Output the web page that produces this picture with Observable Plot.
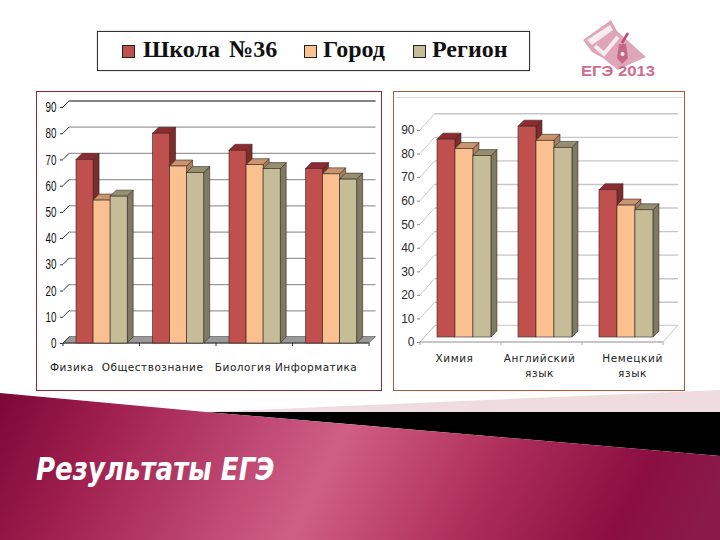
<!DOCTYPE html>
<html><head><meta charset="utf-8">
<script src="https://cdn.jsdelivr.net/npm/d3@7"></script>
<script src="https://cdn.jsdelivr.net/npm/@observablehq/plot@0.6"></script>
<style>
html,body{margin:0;padding:0;background:#fff;}
#slide{position:relative;width:720px;height:540px;overflow:hidden;background:#fff;}
#slide>*{position:absolute;}
#banner{left:0;top:0;width:720px;height:540px;}
#legend{left:97px;top:31px;width:431px;height:38px;border:1px solid #333;background:#fff;box-shadow:0 0 1px #888;font:bold 24px "Liberation Serif",serif;color:#111;}
#legend span{position:absolute;top:4px;white-space:nowrap;word-spacing:3px;}
#legend i{position:absolute;top:13px;width:11px;height:11px;border:1px solid #222;}
.panel{top:91px;height:298px;background:#fff;box-sizing:content-box;}
#pl{left:36px;width:344px;border:1px solid #8a2a35;}
#pr{left:393px;width:290px;border:1px solid #b8583a;}
#pr:before{content:"";position:absolute;left:1px;right:1px;top:5px;height:1px;background:#d8dadc;}
.panel svg{position:absolute;left:0;top:0;overflow:visible;}
.lab{position:absolute;font:10.5px "DejaVu Sans",sans-serif;color:#222;white-space:pre;text-align:center;line-height:15px;}
#title{left:36px;top:450px;font:italic bold 32px "DejaVu Sans Condensed","DejaVu Sans",sans-serif;color:#fff;white-space:nowrap;transform:scaleX(.905);transform-origin:left center;}
</style></head><body>
<div id="slide">
<svg id="banner" viewBox="0 0 720 540">
<defs><linearGradient id="g" gradientUnits="userSpaceOnUse" x1="0" y1="320" x2="640" y2="640">
<stop offset=".05" stop-color="#7c0838"/><stop offset=".2" stop-color="#a0204f"/><stop offset=".5" stop-color="#cf5f85"/><stop offset=".7" stop-color="#b0305c"/><stop offset=".9" stop-color="#8a0e40"/><stop offset="1" stop-color="#8a1a48"/></linearGradient></defs>
<polygon points="206,412 720,390 720,412" fill="#eedce0"/>
<polygon points="206,412 720,412 720,456" fill="#000"/>
<polygon points="0,393 206,412 720,456 720,540 0,540" fill="url(#g)"/>
<polygon points="583,40 611,20 617,31 646,57 628,65 618,70 603,58 592,52" fill="#dfa6ba"/>
<polygon points="587,40 610,25 613,30 592,45" fill="#f7ecf0"/>
<path d="M595,46 L604,54 L618,37" fill="none" stroke="#f7ecf0" stroke-width="4"/>
<path d="M622,43 L628,33" fill="none" stroke="#c04a72" stroke-width="2.5"/>
<path d="M619,44 L626,44 L628,58 L622,64 L617,58 Z" fill="#c4688a"/>
<circle cx="622.5" cy="54" r="2" fill="#f7ecf0"/>
<text x="581" y="75.5" font-family="Liberation Sans" font-weight="bold" font-size="15" fill="#cf6c8e" textLength="74" lengthAdjust="spacingAndGlyphs">ЕГЭ 2013</text>
</svg>
<div id="legend"></div>
<div id="pl" class="panel"></div>
<div id="pr" class="panel"></div>
<div id="title">Результаты ЕГЭ</div>
</div>
<script>
const seriesNames = ["Школа №36", "Город", "Регион"];
const frontColors = ["#c0504d", "#fac090", "#c4bd97"];
const sideColors  = ["#7e2b2c", "#a8805f", "#7f7b62"];
const topColors   = ["#8c2c30", "#c8966e", "#94906f"];

const leftSubjects = ["Физика", "Обществознание", "Биология", "Информатика"];
const leftSchool = [70, 80, 73.5, 66.5];
const leftCity   = [54.5, 67.5, 68, 64.5];
const leftRegion = [56, 65, 66.5, 62.5];

const rightSubjects = ["Химия", "Английский язык", "Немецкий язык"];
const rightSchool = [84, 89.5, 62.5];
const rightCity   = [80, 83.5, 56];
const rightRegion = [77, 80.5, 54];

const gridValues = [0, 10, 20, 30, 40, 50, 60, 70, 80, 90];
const leftCaption = "Физика  Обществознание   Биология Информатика";

function table(subjects, lists, pad, barWidth) {
  return subjects.flatMap((subject, i) => seriesNames.map((series, k) => ({
    subject, series, k, value: lists[k][i],
    start: i + pad + k * barWidth, end: i + pad + (k + 1) * barWidth
  })));
}

function bars3d(data, depth, lift) {
  return Plot.rect(data, {
    x1: "start", x2: "end", y1: 0, y2: "value", fill: "series",
    stroke: "#3a2424", strokeWidth: 0.6, dx: lift, dy: -lift,
    render(index, scales, values, dims, ctx, next) {
      const g = next(index, scales, values, dims, ctx);
      const rects = [...g.querySelectorAll("rect")];
      rects.forEach((r, j) => {
        const k = data[index[j]].k;
        const x = +r.getAttribute("x"), y = +r.getAttribute("y"),
              w = +r.getAttribute("width"), h = +r.getAttribute("height");
        const poly = (pts, fill) => {
          const p = document.createElementNS("http://www.w3.org/2000/svg", "polygon");
          p.setAttribute("points", pts.map(q => q.join(",")).join(" "));
          p.setAttribute("fill", fill);
          r.parentNode.insertBefore(p, r);
        };
        poly([[x + w, y], [x + w + depth, y - depth], [x + w + depth, y + h - depth], [x + w, y + h]], sideColors[k]);
        poly([[x, y], [x + depth, y - depth], [x + w + depth, y - depth], [x + w, y]], topColors[k]);
      });
      return g;
    }
  });
}

function room({dx, dy, floorFill, floorStroke, tickColor, bands, frontLine}) {
  return (index, {y}, values, dims) => {
    const g = d3.create("svg:g");
    const x0 = dims.marginLeft, x1 = dims.width - dims.marginRight, y0 = y(0);
    g.append("polygon")
      .attr("points", [[x0, y0], [x1, y0], [x1 + dx, y0 - dy], [x0 + dx, y0 - dy]].join(" "))
      .attr("fill", floorFill).attr("stroke", floorStroke);
    g.selectAll("line.d").data(gridValues).join("line")
      .attr("x1", x0).attr("x2", x0 + dx)
      .attr("y1", d => y(d)).attr("y2", d => y(d) - dy)
      .attr("stroke", tickColor).attr("stroke-width", 1);
    g.append("line").attr("x1", x0).attr("x2", x1).attr("y1", y0).attr("y2", y0)
      .attr("stroke", frontLine).attr("stroke-width", 1);
    d3.range(bands + 1).forEach(d => g.append("line")
      .attr("x1", x0 + d * (x1 - x0) / bands).attr("x2", x0 + d * (x1 - x0) / bands)
      .attr("y1", y0).attr("y2", y0 + 3)
      .attr("stroke", frontLine));
    return g.node();
  };
}

const leftData = table(leftSubjects, [leftSchool, leftCity, leftRegion], 0.17, 0.223);
const leftPlot = Plot.plot({
  width: 344, height: 260, marginLeft: 26, marginRight: 12, marginTop: 15, marginBottom: 9,
  style: {background: "transparent", overflow: "visible"},
  x: {domain: [0, leftSubjects.length], axis: null},
  y: {domain: [0, 90], axis: null},
  color: {domain: seriesNames, range: frontColors},
  marks: [
    Plot.ruleY(gridValues.filter(d => d > 0), {dx: 6.5, dy: -6.5, stroke: "#9a9a9a", strokeWidth: 1.3}),
    Plot.ruleY([90], {dx: 6.5, dy: -6.5, stroke: "#555", strokeWidth: 1.2}),
    room({dx: 6.5, dy: 6.5, floorFill: "#9a9a9a", floorStroke: "#808080", tickColor: "#333", bands: 4, frontLine: "#333"}),
    Plot.axisY(gridValues, {anchor: "left", tickSize: 3, tickPadding: 4, stroke: "#333", fill: "#111", label: null,
      fontFamily: "Liberation Sans", fontSize: 14.5, tickFormat: d => d}),
    bars3d(leftData, 6, 0)
  ]
});
leftPlot.querySelectorAll('[aria-label="y-axis tick label"] text').forEach(t => {
  t.setAttribute("transform", (t.getAttribute("transform") || "") + " scale(.68,1)");
});
document.getElementById("pl").appendChild(leftPlot);

const rightData = table(rightSubjects, [rightSchool, rightCity, rightRegion], 0.148, 0.222);
const rightPlot = Plot.plot({
  width: 290, height: 260, marginLeft: 26, marginRight: 21, marginTop: 38, marginBottom: 10,
  style: {background: "transparent", overflow: "visible"},
  x: {domain: [0, rightSubjects.length], axis: null},
  y: {domain: [0, 90], axis: null},
  color: {domain: seriesNames, range: frontColors},
  marks: [
    Plot.ruleY(gridValues, {dx: 15, dy: -16.7, stroke: "#c4c6c8", strokeWidth: 1.4}),
    room({dx: 15, dy: 16.7, floorFill: "#fff", floorStroke: "#c8c8c8", tickColor: "#c8cacc", bands: 3, frontLine: "#aaa"}),
    Plot.axisY(gridValues, {anchor: "left", tickSize: 3, tickPadding: 3, stroke: "#888", fill: "#2a2a2a", label: null,
      fontFamily: "Liberation Sans", fontSize: 12, tickFormat: d => d}),
    bars3d(rightData, 6, 5)
  ]
});
document.getElementById("pr").appendChild(rightPlot);

const legend = document.getElementById("legend");
const legendText = [45, 225, 334], legendKey = [24, 206, 315];
seriesNames.forEach((name, k) => {
  const i = document.createElement("i");
  i.style.left = legendKey[k] + "px"; i.style.background = frontColors[k];
  const s = document.createElement("span");
  s.style.left = legendText[k] + "px"; s.textContent = name;
  legend.append(i, s);
});

const cap = document.createElement("div");
cap.className = "lab"; cap.textContent = leftCaption;
cap.style.cssText = "left:13px;top:268px;letter-spacing:.5px;";
document.getElementById("pl").appendChild(cap);
const rightCentres = [60.5, 145.5, 238.5], rightLines = [["Химия"], ["Английский", "язык"], ["Немецкий", "язык"]];
rightLines.forEach((lines, i) => {
  const d = document.createElement("div");
  d.className = "lab"; d.textContent = lines.join("\n");
  d.style.cssText = `left:${rightCentres[i] - 50}px;top:259px;width:100px;letter-spacing:.6px;`;
  document.getElementById("pr").appendChild(d);
});
</script>
</body></html>
